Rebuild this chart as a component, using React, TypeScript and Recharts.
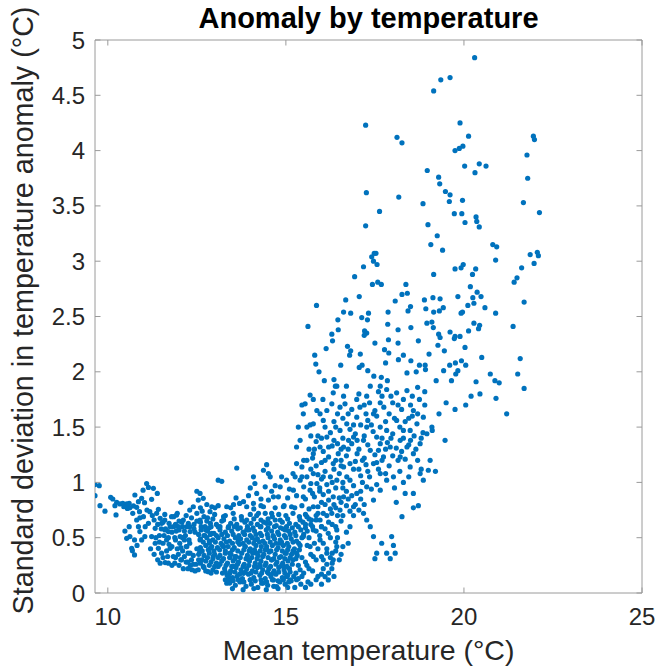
import React from 'react';
import { ScatterChart, Scatter, XAxis, YAxis, Label } from 'recharts';

type P = [number, number];

// Values (x: mean temperature °C, y: std. deviation °C)
const leftTail: P[] = [
  [9.64,0.98],[9.76,0.97],[9.64,0.88],[9.78,0.79],[9.92,0.74],[10.08,0.865],[10.14,0.85],[10.25,0.82],
  [10.34,0.805],[10.42,0.81],[10.2,0.79],[10.53,0.805],[10.6,0.81],[10.62,0.77],[10.23,0.706],[10.55,0.765],
  [10.76,0.886],[10.95,0.856],[10.86,0.826],[10.99,0.93],[11.03,0.817],[10.81,0.775],[10.72,0.787],[10.89,0.735],
  [10.48,0.56],[10.53,0.494],[10.62,0.51],[10.67,0.404],[10.75,0.344],[10.69,0.383],[10.81,0.66],[10.86,0.6],
  [10.9,0.555],[11.04,0.51],[10.95,0.48],[11.0,0.69],[10.45,0.78],[10.7,0.72],[10.9,0.68],[11.05,0.6],
  [10.6,0.6],[10.75,0.48],[10.82,0.43],
];

const coolBand: P[] = [
  [11.09,0.99],[11.14,0.955],[11.28,0.946],[11.39,0.9],[11.23,0.847],[11.14,0.63],[11.18,0.735],[11.37,0.72],
  [11.47,0.675],[11.42,0.757],[11.33,0.585],[11.51,0.63],[11.23,0.51],[11.33,0.45],[11.42,0.404],[11.51,0.36],
  [11.47,0.27],[11.61,0.275],[11.65,0.48],[11.7,0.555],[11.75,0.404],[11.84,0.33],[11.79,0.69],[11.93,0.705],
  [11.98,0.6],[12.03,0.51],[12.07,0.3],[12.12,0.22],[12.22,0.42],[12.31,0.36],[12.36,0.21],[12.31,0.555],
  [12.12,0.66],[12.22,0.6],[12.5,0.92],[12.59,0.9],[12.68,0.856],[12.54,0.84],[12.78,0.8],[12.92,0.78],
  [13.01,0.77],[12.87,0.735],[12.59,0.66],[12.73,0.6],[12.59,0.48],[12.64,0.3],[12.68,0.24],[12.82,0.193],
  [12.54,0.21],[12.87,0.404],[12.92,0.54],[12.96,0.33],
  [11.1,0.75],[11.3,0.66],[11.45,0.52],[11.55,0.45],[11.65,0.38],[11.8,0.42],[11.9,0.32],[12.0,0.25],
  [12.15,0.33],[12.25,0.28],[12.35,0.3],[12.45,0.2],[12.6,0.27],[12.7,0.23],[11.95,0.72],[12.05,0.82],
  [12.3,0.75],[12.5,0.65],[12.7,0.52],[12.85,0.47],[11.35,0.5],[11.5,0.58],[11.7,0.5],[11.85,0.6],
  [11.55,0.32],[11.7,0.27],[11.8,0.25],[11.95,0.4],[12.1,0.38],[12.25,0.22],[12.4,0.26],[12.55,0.3],
  [12.3,0.45],[11.75,0.6],[12.0,0.65],[12.35,0.68],[12.65,0.74],[12.8,0.68],[11.6,0.66],[11.45,0.46],[12.15,0.48],
  [11.2,0.4],[11.3,0.35],[11.4,0.3],[11.58,0.52],[11.62,0.58],[11.72,0.44],[11.88,0.5],[11.92,0.56],
  [12.02,0.45],[12.1,0.6],[12.18,0.52],[12.25,0.36],[12.28,0.48],[12.4,0.34],[12.42,0.58],[12.5,0.4],
  [12.48,0.26],[12.58,0.37],[12.62,0.6],[12.75,0.57],[12.78,0.65],[12.9,0.6],[12.05,0.3],[11.98,0.35],
  [11.88,0.27],[11.68,0.33],[12.2,0.28],[12.32,0.25],[12.75,0.2],[12.9,0.18],
];

const coreSparse: P[] = [
  [13.1,1.02],[13.2,1.01],[13.25,0.42],[13.15,0.6],[13.25,0.69],[13.34,0.78],[13.39,0.6],[13.43,0.36],
  [13.39,0.148],[13.34,0.088],[13.48,0.118],[13.53,0.24],[13.57,0.33],[13.62,1.13],[13.67,0.48],[13.7,0.81],
  [13.53,0.8],[13.81,0.826],[13.76,0.66],[13.9,0.57],[13.85,0.42],[13.95,0.3],[13.81,0.178],[14.0,0.118],
  [14.09,1.05],[14.13,0.99],[14.09,0.81],[14.18,0.9],[14.23,0.72],[14.28,0.6],[14.13,0.48],[14.18,0.36],
  [14.28,0.24],[14.32,0.088],[14.37,1.11],[14.51,1.08],[14.46,1.16],[14.56,1.05],[14.42,0.96],[14.6,0.92],
  [14.51,0.84],[14.37,0.78],[14.6,0.72],[14.46,0.63],[14.65,0.51],[14.46,0.42],[14.6,0.3],[14.51,0.178],
  [14.65,0.118],[14.74,0.058],[14.79,0.87],[14.84,0.96],[14.88,1.05],[14.93,0.78],[14.84,0.66],[14.98,0.57],
  [14.84,0.45],[14.98,0.36],[14.93,0.24],[15.02,0.148],[15.12,0.118],[15.16,0.78],[15.21,0.93],[15.02,1.02],
  [15.26,1.05],[15.3,1.17],[15.3,1.32],[15.4,1.38],[15.35,1.5],[15.45,1.7],[15.54,1.71],[15.49,1.62],
  [15.42,0.08],[15.55,0.05],[15.7,0.08],[16.0,0.08],[15.25,0.05],
];

const coreDenseLow: P[] = [
  [13.42,0.09],[13.58,0.07],[13.71,0.1],[13.88,0.06],[14.03,0.08],[14.21,0.05],[14.36,0.09],[14.49,0.07],
  [14.66,0.06],[14.83,0.1],[14.98,0.08],[15.15,0.11],[13.3,0.12],
  [13.5,0.04],[13.8,0.03],[14.1,0.04],[14.45,0.03],[14.78,0.04],[15.05,0.05],
  [13.36,0.115],[13.52,0.11],[13.66,0.12],[13.82,0.1],[14.0,0.12],[14.14,0.11],[14.3,0.12],[14.46,0.1],
  [14.62,0.12],[14.78,0.11],[14.93,0.12],[15.08,0.1],[15.3,0.12],
  [13.35,0.16],[13.5,0.14],[13.63,0.15],[13.78,0.13],[13.95,0.17],[14.1,0.14],[14.27,0.16],[14.42,0.13],
  [14.58,0.15],[14.72,0.17],[14.9,0.14],[15.05,0.16],[15.22,0.15],[13.22,0.18],
  [13.3,0.19],[13.43,0.18],[13.57,0.19],[13.7,0.17],[13.86,0.19],[14.02,0.18],[14.16,0.19],[14.32,0.18],
  [14.48,0.19],[14.64,0.18],[14.8,0.19],[14.97,0.18],[15.12,0.19],[15.28,0.18],[13.05,0.19],
  [13.28,0.22],[13.45,0.2],[13.6,0.23],[13.74,0.21],[13.9,0.22],[14.06,0.2],[14.2,0.23],[14.35,0.21],
  [14.52,0.22],[14.67,0.2],[14.8,0.23],[14.95,0.21],[15.1,0.22],[13.1,0.24],[12.95,0.21],
  [12.85,0.25],[13.0,0.24],[13.15,0.26],[13.32,0.25],[13.48,0.24],[13.64,0.26],[13.8,0.24],[13.96,0.25],
  [14.12,0.24],[14.27,0.26],[14.42,0.25],[14.57,0.24],[14.72,0.26],[14.88,0.25],[15.03,0.24],[15.18,0.26],[15.35,0.25],
  [12.9,0.28],[13.05,0.27],[13.2,0.29],[13.36,0.27],[13.52,0.29],[13.67,0.28],[13.83,0.26],[13.98,0.29],
  [14.14,0.27],[14.3,0.29],[14.44,0.27],[14.6,0.3],[14.75,0.28],[14.91,0.27],[15.06,0.29],[15.2,0.3],[12.75,0.29],
  [12.8,0.32],[12.95,0.31],[13.1,0.32],[13.25,0.31],[13.42,0.32],[13.57,0.31],[13.72,0.32],[13.88,0.31],
  [14.04,0.32],[14.19,0.31],[14.35,0.33],[14.5,0.32],[14.66,0.31],[14.82,0.32],[14.97,0.31],[15.12,0.32],
  [15.28,0.31],[15.45,0.32],
  [12.7,0.34],[12.85,0.36],[13.0,0.35],[13.15,0.34],[13.3,0.36],[13.46,0.35],[13.6,0.33],[13.76,0.36],
  [13.92,0.34],[14.07,0.36],[14.22,0.34],[14.38,0.35],[14.53,0.37],[14.7,0.35],[14.86,0.33],[15.01,0.36],
  [15.16,0.35],[15.32,0.34],[12.55,0.35],
];

const coreDenseMid: P[] = [
  [12.65,0.38],[12.82,0.39],[12.98,0.38],[13.14,0.39],[13.3,0.38],[13.5,0.39],[13.65,0.38],[13.82,0.39],
  [13.97,0.38],[14.12,0.39],[14.28,0.38],[14.42,0.39],[14.58,0.38],[14.74,0.39],[14.9,0.38],[15.05,0.39],
  [15.2,0.38],[15.38,0.39],
  [12.6,0.41],[12.75,0.43],[12.92,0.42],[13.08,0.41],[13.22,0.43],[13.38,0.42],[13.55,0.41],[13.7,0.44],
  [13.86,0.42],[14.0,0.4],[14.16,0.43],[14.31,0.42],[14.46,0.4],[14.62,0.43],[14.78,0.41],[14.93,0.43],
  [15.08,0.42],[15.24,0.4],[15.4,0.43],[12.2,0.42],[12.05,0.41],
  [12.68,0.46],[12.85,0.45],[13.02,0.46],[13.18,0.45],[13.33,0.46],[13.5,0.45],[13.65,0.46],[13.8,0.45],
  [13.96,0.46],[14.1,0.45],[14.26,0.46],[14.41,0.45],[14.56,0.46],[14.72,0.45],[14.88,0.46],[15.04,0.45],
  [15.2,0.46],[15.36,0.45],
  [11.9,0.48],[12.1,0.5],[12.6,0.49],[12.78,0.5],[12.95,0.48],[13.1,0.5],[13.26,0.49],[13.42,0.47],
  [13.58,0.5],[13.73,0.49],[13.9,0.48],[14.05,0.5],[14.2,0.49],[14.36,0.47],[14.5,0.5],[14.68,0.49],
  [14.84,0.48],[15.0,0.5],[15.15,0.49],[15.3,0.47],[15.45,0.5],
  [12.55,0.53],[12.72,0.52],[12.88,0.53],[13.05,0.52],[13.2,0.53],[13.36,0.52],[13.52,0.53],[13.68,0.52],
  [13.84,0.53],[14.0,0.52],[14.16,0.53],[14.32,0.52],[14.48,0.53],[14.64,0.52],[14.8,0.53],[14.96,0.52],
  [15.12,0.53],[15.28,0.52],[15.5,0.53],
  [11.6,0.57],[11.8,0.55],[12.0,0.57],[12.15,0.56],[12.45,0.55],[12.62,0.57],[12.8,0.56],[12.98,0.54],
  [13.15,0.57],[13.3,0.55],[13.48,0.56],[13.65,0.58],[13.8,0.55],[13.97,0.57],[14.12,0.56],[14.28,0.54],
  [14.45,0.57],[14.6,0.56],[14.77,0.55],[14.92,0.58],[15.08,0.56],[15.25,0.55],[15.42,0.57],[15.6,0.56],
  [12.3,0.6],[12.85,0.59],[13.1,0.6],[13.38,0.59],[13.55,0.6],[13.72,0.59],[13.92,0.6],[14.08,0.59],
  [14.3,0.6],[14.5,0.59],[14.68,0.6],[14.85,0.59],[15.02,0.6],[15.18,0.59],[15.35,0.6],[15.55,0.59],[15.75,0.6],
  [11.4,0.62],[11.55,0.64],[11.72,0.63],[11.9,0.62],[12.08,0.64],[12.26,0.63],[12.42,0.62],[12.6,0.64],
  [12.88,0.63],[13.05,0.62],[13.2,0.65],[13.45,0.63],[13.62,0.62],[13.85,0.64],[14.02,0.63],[14.2,0.62],
  [14.38,0.64],[14.55,0.63],[14.73,0.61],[14.9,0.64],[15.1,0.63],[15.28,0.62],[15.48,0.64],[15.7,0.62],
  [12.95,0.67],[13.25,0.66],[13.55,0.67],[13.9,0.66],[14.1,0.67],[14.3,0.66],[14.5,0.67],[14.7,0.66],
  [15.05,0.67],[15.4,0.66],[15.65,0.67],[15.85,0.66],[16.0,0.6],
  [11.25,0.7],[11.6,0.71],[11.85,0.69],[12.2,0.7],[12.5,0.72],[12.7,0.69],[13.0,0.71],[13.3,0.7],
  [13.52,0.72],[13.75,0.69],[14.0,0.71],[14.18,0.7],[14.42,0.72],[14.62,0.69],[14.8,0.71],[15.0,0.7],
  [15.2,0.72],[15.38,0.69],[15.55,0.71],[15.85,0.7],[16.05,0.72],
  [12.4,0.78],[12.6,0.77],[13.1,0.79],[13.45,0.77],[13.9,0.78],[14.1,0.76],[14.3,0.79],[14.7,0.77],
  [14.95,0.79],[15.25,0.77],[15.45,0.79],[15.65,0.76],[15.9,0.78],[16.1,0.8],[16.4,0.77],[16.7,0.79],
];

const risingBand: P[] = [
  [15.59,1.5],[15.68,1.52],[15.77,1.53],[15.87,1.65],[15.96,1.62],[16.04,1.75],[15.77,1.75],[15.68,1.79],
  [16.33,1.81],[16.43,1.87],[16.62,1.78],[16.66,1.71],[16.52,1.68],[16.29,1.71],[16.15,1.41],[16.05,1.56],
  [15.96,1.32],[15.77,1.26],[15.59,1.2],[15.45,1.14],[15.4,1.02],[15.59,1.05],[15.77,1.08],[15.87,0.99],
  [15.68,0.93],[15.49,0.87],[15.77,0.78],[15.59,0.69],[15.96,0.66],[15.77,0.57],[15.49,0.51],[15.96,0.48],
  [15.68,0.42],[15.3,0.36],[15.77,0.33],[15.59,0.25],[15.4,0.21],[16.15,0.36],[16.1,0.148],[16.19,0.118],
  [16.29,0.22],[16.33,0.3],[16.43,0.42],[16.19,0.54],[16.43,0.57],[16.29,0.72],[16.52,0.75],[16.33,0.87],
  [16.62,0.87],[16.43,1.02],[16.71,1.05],[16.62,1.14],[16.8,1.17],[16.33,1.17],[16.47,1.26],[16.62,1.32],
  [16.76,1.38],[16.9,1.41],[16.52,1.47],[16.71,1.53],[16.99,1.59],[17.08,1.68],[16.99,1.75],[17.27,1.78],
  [17.37,1.87],[16.99,0.9],[16.9,0.78],[17.18,0.72],[17.27,0.66],[17.37,0.6],[17.46,0.51],[17.55,0.36],
  [17.5,0.31],[17.83,0.36],[17.69,0.45],[17.97,0.51],[18.02,0.43],[17.93,0.31],[18.07,0.36],[18.26,0.69],
  [18.58,0.77],[18.72,0.79],[18.58,0.9],[18.86,1.02],[19.0,1.11],[18.77,1.08],[18.49,1.14],[18.21,1.23],
  [18.02,1.05],[17.83,1.02],[17.65,0.93],[17.46,0.84],[17.27,0.96],[17.65,1.08],[17.46,1.17],[17.74,1.23],
  [17.93,1.32],[18.21,1.38],[18.49,1.47],[18.68,1.53],[18.86,1.59],[18.96,1.44],[18.58,1.65],[18.3,1.75],
  [18.11,1.81],[17.83,1.84],[17.65,1.72],[17.46,1.62],[17.27,1.5],[17.18,1.38],[17.37,1.29],[17.55,1.41],
  [17.83,1.47],[18.11,1.56],[18.4,1.32],[18.58,1.26],[18.77,1.35],
  [13.6,0.86],[13.95,0.88],[14.3,0.85],[14.65,0.87],[15.05,0.86],[15.3,0.88],[15.55,0.85],[15.8,0.87],
  [16.05,0.89],[16.2,0.84],[16.5,0.86],[16.85,0.88],[17.1,0.85],
  [14.0,0.95],[14.7,0.97],[15.1,0.94],[15.5,0.96],[15.7,0.99],[15.95,0.95],[16.15,0.98],[16.6,0.95],
  [16.9,0.97],[17.15,1.0],[17.4,0.94],
  [15.2,1.08],[15.45,1.05],[15.7,1.12],[15.9,1.07],[16.1,1.1],[16.25,1.05],[16.5,1.08],[16.9,1.12],
  [17.1,1.06],[17.3,1.1],[17.6,1.12],[17.9,1.15],[18.2,1.1],
  [15.5,1.2],[15.75,1.22],[16.0,1.18],[16.2,1.23],[16.4,1.2],[16.7,1.24],[16.95,1.19],[17.2,1.22],
  [17.5,1.25],[17.7,1.2],[18.0,1.24],[18.35,1.21],[18.7,1.2],
  [15.8,1.3],[16.05,1.28],[16.3,1.33],[16.55,1.3],[16.85,1.35],[17.05,1.3],[17.3,1.34],[17.6,1.29],
  [17.85,1.36],[18.1,1.31],[18.45,1.34],[18.65,1.3],
  [15.9,1.42],[16.25,1.45],[16.6,1.4],[16.95,1.44],[17.2,1.42],[17.45,1.46],[17.7,1.4],[18.0,1.44],
  [18.3,1.47],[18.6,1.42],[18.85,1.45],
  [16.35,1.55],[16.6,1.58],[16.9,1.52],[17.3,1.56],[17.55,1.6],[17.8,1.55],[18.05,1.58],[18.35,1.55],[18.55,1.6],
  [16.85,1.66],[17.2,1.7],[17.5,1.65],[17.75,1.68],[18.0,1.72],[18.25,1.66],[18.5,1.7],[18.75,1.75],
  [17.05,1.8],[17.6,1.82],[17.95,1.78],[18.4,1.83],[18.7,1.86],
  [15.35,0.13],[15.5,0.18],[15.62,0.1],[15.75,0.2],[15.9,0.15],[16.05,0.22],[16.2,0.18],[16.3,0.27],
  [15.55,0.28],[15.7,0.35],[15.85,0.3],[16.0,0.33],[16.15,0.4],[16.3,0.36],[16.5,0.3],[16.6,0.42],
  [16.45,0.5],[16.7,0.55],[15.6,0.43],[15.8,0.45],[15.95,0.52],[16.1,0.58],[16.3,0.62],[16.55,0.65],
  [16.8,0.6],[16.9,0.7],[17.05,0.75],[17.2,0.8],
  [15.45,0.15],[15.65,0.22],[15.85,0.12],[16.0,0.17],[16.15,0.26],[16.35,0.15],[16.05,0.3],[16.25,0.32],
  [16.4,0.38],[16.55,0.35],[16.75,0.45],[16.4,0.46],[16.25,0.5],[16.05,0.45],[15.9,0.4],[15.65,0.5],
  [15.85,0.56],[16.0,0.6],[16.2,0.64],[16.4,0.6],[16.6,0.7],[16.8,0.74],[16.45,0.7],[16.25,0.76],
  [16.0,0.82],[15.75,0.9],[15.95,0.92],[16.2,0.92],[16.4,0.95],[16.7,0.92],[16.95,0.8],[17.1,0.92],
  [16.6,1.0],[16.8,1.02],[17.05,1.12],[16.35,1.12],[16.0,1.03],[15.65,1.3],[15.85,1.37],[16.1,1.5],
  [16.35,1.38],[16.45,1.62],[16.75,1.62],[16.15,1.65],[17.0,1.26],[17.25,1.16],
  [17.55,0.98],[17.8,1.08],[18.05,0.95],[18.3,1.0],[18.45,1.05],[17.65,1.35],[17.95,1.4],[18.25,1.28],
  [18.5,1.38],[18.8,1.4],[17.4,1.52],[17.65,1.5],[17.9,1.62],[18.2,1.5],[18.45,1.58],[18.7,1.62],
  [18.9,1.7],[17.35,1.72],[17.7,1.78],[18.15,1.7],[18.55,1.78],[18.9,1.82],[17.25,1.62],[18.8,1.12],
  [18.35,0.9],[18.1,0.82],
  [15.55,0.62],[15.72,0.66],[15.9,0.72],[16.15,0.7],[16.35,0.8],[16.55,0.82],[16.75,0.85],[16.3,1.0],
  [16.05,1.05],[15.85,1.15],[16.1,1.2],[16.55,1.15],[16.75,1.3],[16.45,1.35],[16.2,1.32],[16.0,1.4],
  [16.4,1.5],[16.8,1.48],[17.1,1.52],[17.0,1.38],[15.7,1.42],[16.55,1.2],[17.15,1.2],[17.35,1.05],
  [17.55,1.18],[17.8,1.3],[18.3,1.4],[18.15,1.2],
];

const warmSpread: P[] = [
  [20.3,4.84],[19.35,4.64],[19.61,4.66],[19.15,4.54],[17.24,4.23],[19.89,4.25],[20.13,4.13],[18.12,4.12],
  [18.26,4.07],[19.75,4.0],[19.87,4.02],[19.97,4.04],[21.95,4.13],[21.98,4.1],[21.77,3.96],[20.02,3.86],
  [20.43,3.88],[20.62,3.86],[20.31,3.8],[18.97,3.82],[19.29,3.76],[19.32,3.7],[21.79,3.75],[17.26,3.62],
  [18.17,3.58],[19.48,3.63],[19.61,3.6],[19.59,3.54],[19.96,3.55],[18.85,3.52],[21.67,3.53],[17.63,3.45],
  [22.12,3.44],[19.73,3.43],[19.94,3.43],[20.03,3.35],[20.34,3.4],[20.36,3.36],[20.43,3.31],[17.24,3.32],
  [18.99,3.33],[19.25,3.23],[19.07,3.15],[19.4,3.1],[20.81,3.15],[20.92,3.13],[20.89,3.01],[17.53,3.07],
  [17.48,3.07],[17.41,3.04],[17.46,3.0],[17.56,2.97],[17.18,2.95],[21.86,3.06],[22.06,3.08],[22.09,3.05],
  [21.97,2.98],[21.62,2.94],[19.75,2.93],[19.92,2.94],[19.98,2.97],[20.33,2.93],[19.15,2.88],[20.24,2.88],
  [16.93,2.86],[17.43,2.79],[17.58,2.81],[17.68,2.79],[18.37,2.79],[21.49,2.85],[21.41,2.81],[20.18,2.77],
  [20.37,2.72],[20.48,2.68],[20.25,2.67],[20.11,2.6],[20.28,2.62],[20.59,2.58],[19.83,2.68],[18.26,2.7],
  [18.41,2.71],[17.06,2.68],[16.68,2.65],[18.07,2.64],[18.89,2.65],[19.13,2.67],[19.33,2.66],[15.86,2.6],
  [16.62,2.54],[16.82,2.53],[17.32,2.53],[17.87,2.54],[18.43,2.55],[18.5,2.59],[18.93,2.57],[19.15,2.54],
  [19.31,2.55],[19.42,2.58],[19.92,2.53],[19.96,2.54],[20.89,2.53],[21.69,2.63],[15.62,2.41],[17.13,2.49],
  [17.29,2.47],[16.46,2.47],[17.86,2.43],[18.51,2.4],[18.96,2.44],[19.1,2.45],[19.14,2.4],[20.28,2.44],
  [20.44,2.42],[20.41,2.39],[21.38,2.41],[16.29,2.34],[16.47,2.38],[17.21,2.37],[17.27,2.35],[18.15,2.38],
  [19.29,2.34],[19.33,2.31],[19.61,2.36],[19.75,2.32],[19.89,2.32],[20.13,2.37],[16.31,2.28],[17.2,2.33],
  [17.5,2.26],[17.88,2.29],[18.15,2.26],[18.72,2.28],[19.27,2.24],[19.73,2.3],[20.03,2.22],[16.13,2.21],
  [16.73,2.23],[16.82,2.19],[17.77,2.2],[17.89,2.17],[19.02,2.16],[19.45,2.19],[15.81,2.15],[16.79,2.15],
  [17.09,2.16],[18.3,2.15],[20.5,2.13],[21.58,2.12],[15.84,2.07],[16.54,2.06],[17.06,2.04],[17.14,2.06],
  [17.8,2.08],[18.16,2.11],[18.51,2.1],[18.75,2.06],[18.91,2.06],[19.6,2.06],[19.76,2.08],[19.93,2.1],
  [20.05,2.06],[15.93,2.0],[17.3,2.01],[18.4,1.99],[18.66,2.0],[18.92,2.02],[19.43,2.01],[19.77,1.98],
  [19.83,2.01],[20.74,1.98],[21.51,1.98],[16.08,1.92],[16.35,1.93],[17.47,1.96],[17.68,1.95],[17.85,1.92],
  [19.22,1.92],[19.65,1.92],[20.34,1.91],[20.87,1.92],[20.99,1.9],[16.39,1.87],[16.7,1.87],[17.65,1.87],
  [21.69,1.85],
];

const hotSparse: P[] = [
  [19.1,1.5],[19.3,1.62],[19.5,1.72],[19.75,1.66],[20.05,1.7],[20.2,1.78],[20.45,1.8],[20.9,1.76],
  [21.2,1.62],[19.05,1.2],[19.2,1.1],[19.47,1.38],[19.11,1.47],
];

const points = [...leftTail, ...coolBand, ...coreSparse, ...coreDenseLow, ...coreDenseMid, ...risingBand, ...warmSpread, ...hotSparse]
  .map(([x, y]) => ({ x, y }));

const xDomain: [number, number] = [9.64, 25];
const yDomain: [number, number] = [0, 5];
const xTicks = [10, 15, 20, 25];
const yTicks = [0, 0.5, 1, 1.5, 2, 2.5, 3, 3.5, 4, 4.5, 5];

const chartTitle = 'Anomaly by temperature';
const xLabel = 'Mean temperature (°C)';
const yLabel = 'Standard deviation in temperature anomaly (°C)';

const FONT = '"Liberation Sans", Arial, Helvetica, sans-serif';
const AXIS = '#9a9a9a';
const TEXT = '#262626';
const DOT = '#0072BD';
const TICK_LEN = 5.5;

const BottomTick = (p: any) => (
  <g>
    <line x1={p.x} x2={p.x} y1={p.y} y2={p.y - TICK_LEN} stroke={AXIS} strokeWidth={1} />
    <text x={p.x} y={p.y + 32} textAnchor="middle" fill={TEXT} fontSize={24} fontFamily={FONT}>{p.payload.value}</text>
  </g>
);
const TopTick = (p: any) => (
  <line x1={p.x} x2={p.x} y1={p.y} y2={p.y + TICK_LEN} stroke={AXIS} strokeWidth={1} />
);
const LeftTick = (p: any) => (
  <g>
    <line x1={p.x} x2={p.x + TICK_LEN} y1={p.y} y2={p.y} stroke={AXIS} strokeWidth={1} />
    <text x={p.x - 10} y={p.y + 8.5} textAnchor="end" fill={TEXT} fontSize={24} fontFamily={FONT}>{String(p.payload.value)}</text>
  </g>
);
const RightTick = (p: any) => (
  <line x1={p.x} x2={p.x - TICK_LEN} y1={p.y} y2={p.y} stroke={AXIS} strokeWidth={1} />
);

const TitleContent = (props: any) => {
  const vb = props.viewBox || { x: 95, y: 0, width: 547, height: 40 };
  return (
    <text x={vb.x + vb.width / 2} y={vb.y + 28} textAnchor="middle" fill="#000" fontSize={29} fontWeight="bold" fontFamily={FONT}>
      {chartTitle}
    </text>
  );
};
const XLabelContent = (props: any) => {
  const vb = props.viewBox || { x: 95, y: 593, width: 547, height: 76 };
  return (
    <text x={vb.x + vb.width / 2} y={vb.y + 67} textAnchor="middle" fill={TEXT} fontSize={28.5} fontFamily={FONT}>
      {xLabel}
    </text>
  );
};
const YLabelContent = (props: any) => {
  const vb = props.viewBox || { x: 0, y: 40, width: 95, height: 553 };
  const cx = vb.x + 33;
  const cy = vb.y + vb.height / 2 - 6;
  return (
    <text x={cx} y={cy} transform={`rotate(-90 ${cx} ${cy})`} textAnchor="middle" fill={TEXT} fontSize={28.7} fontFamily={FONT}>
      {yLabel}
    </text>
  );
};

export default function App() {
  return (
    <div style={{ position: 'fixed', left: 0, top: 0, width: 659, height: 669, background: '#fff' }}>
      <ScatterChart width={659} height={669} margin={{ top: 0, right: 0, bottom: 0, left: 0 }}>
        <XAxis
          xAxisId="b" dataKey="x" type="number" orientation="bottom" domain={xDomain} ticks={xTicks}
          interval={0} height={76} tickSize={0} tickMargin={0} allowDataOverflow
          axisLine={{ stroke: AXIS }} tickLine={false} tick={BottomTick}
        >
          <Label content={XLabelContent} />
        </XAxis>
        <XAxis
          xAxisId="t" dataKey="x" type="number" orientation="top" domain={xDomain} ticks={xTicks}
          interval={0} height={40} tickSize={0} tickMargin={0} allowDataOverflow
          axisLine={{ stroke: AXIS }} tickLine={false} tick={TopTick}
        >
          <Label content={TitleContent} />
        </XAxis>
        <YAxis
          yAxisId="l" dataKey="y" type="number" orientation="left" domain={yDomain} ticks={yTicks}
          interval={0} width={95} tickSize={0} tickMargin={0} allowDataOverflow
          axisLine={{ stroke: AXIS }} tickLine={false} tick={LeftTick}
        >
          <Label content={YLabelContent} />
        </YAxis>
        <YAxis
          yAxisId="r" dataKey="y" type="number" orientation="right" domain={yDomain} ticks={yTicks}
          interval={0} width={17} tickSize={0} tickMargin={0} allowDataOverflow
          axisLine={{ stroke: AXIS }} tickLine={false} tick={RightTick}
        />
        <Scatter
          xAxisId="b" yAxisId="l" data={points} isAnimationActive={false}
          shape={(p: any) => <circle cx={p.cx} cy={p.cy} r={2.6} fill={DOT} />}
        />
      </ScatterChart>
    </div>
  );
}
